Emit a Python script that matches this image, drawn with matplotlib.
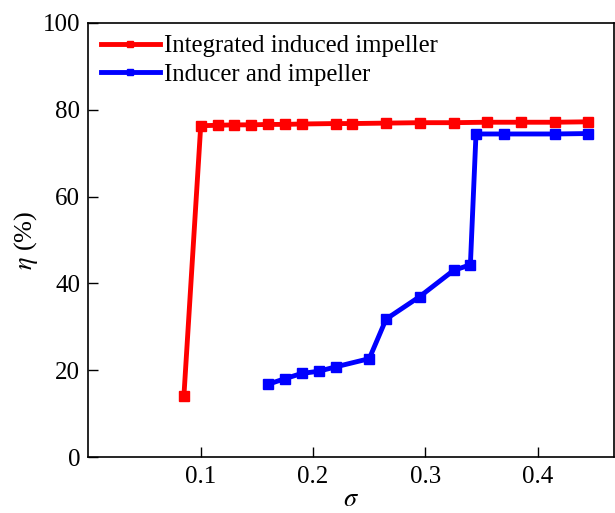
import matplotlib
matplotlib.use("Agg")
import matplotlib.pyplot as plt

# data
sigma_int = [0.085, 0.100, 0.115, 0.130, 0.145, 0.160, 0.175, 0.190, 0.220, 0.235,
             0.265, 0.295, 0.325, 0.355, 0.385, 0.415, 0.445]
eta_int = [14.0, 76.3, 76.4, 76.5, 76.5, 76.6, 76.6, 76.7, 76.8, 76.8,
           76.9, 77.0, 77.0, 77.1, 77.1, 77.1, 77.2]

sigma_sep = [0.160, 0.175, 0.190, 0.205, 0.220, 0.250, 0.265, 0.295, 0.325, 0.340,
             0.345, 0.370, 0.415, 0.445]
eta_sep = [16.8, 18.1, 19.3, 19.8, 20.8, 22.7, 31.8, 37.0, 43.0, 44.3,
           74.4, 74.4, 74.4, 74.5]

labels = ["Integrated induced impeller", "Inducer and impeller"]
xticks = [0.1, 0.2, 0.3, 0.4]
yticks = [0, 20, 40, 60, 80, 100]

plt.rcParams['font.family'] = ['Liberation Serif', 'DejaVu Serif']
plt.rcParams['mathtext.fontset'] = 'stix'

fig = plt.figure(figsize=(6.15, 5.13), dpi=100)
ax = fig.add_axes([0.1437, 0.1086, 0.855, 0.8471])

ax.plot(sigma_int, eta_int, color='#ff0000', lw=3.5, marker='s', ms=6.5, label=labels[0])
ax.plot(sigma_sep, eta_sep, color='#0000ff', lw=3.5, marker='s', ms=6.5, label=labels[1])

ax.set_xlim(0, 0.468)
ax.set_ylim(0, 100)
ax.set_xticks(xticks)
ax.set_xticklabels(["0.1", "0.2", "0.3", "0.4"])
ax.set_yticks(yticks)
ax.tick_params(direction='in', length=7, width=1, labelsize=18, pad=6)
for s in ax.spines.values():
	s.set_linewidth(1.2)

ax.set_xlabel(r'$\sigma$', fontsize=19, labelpad=1)
ax.set_ylabel(r'$\eta$ (%)', fontsize=19, labelpad=2)

ax.legend(loc='upper left', frameon=False, fontsize=17.8, handlelength=2.4,
          handletextpad=0.15, labelspacing=0.25, borderaxespad=0.2,
          borderpad=0.3, markerscale=0.7)

fig.savefig("out.png", dpi=100)
